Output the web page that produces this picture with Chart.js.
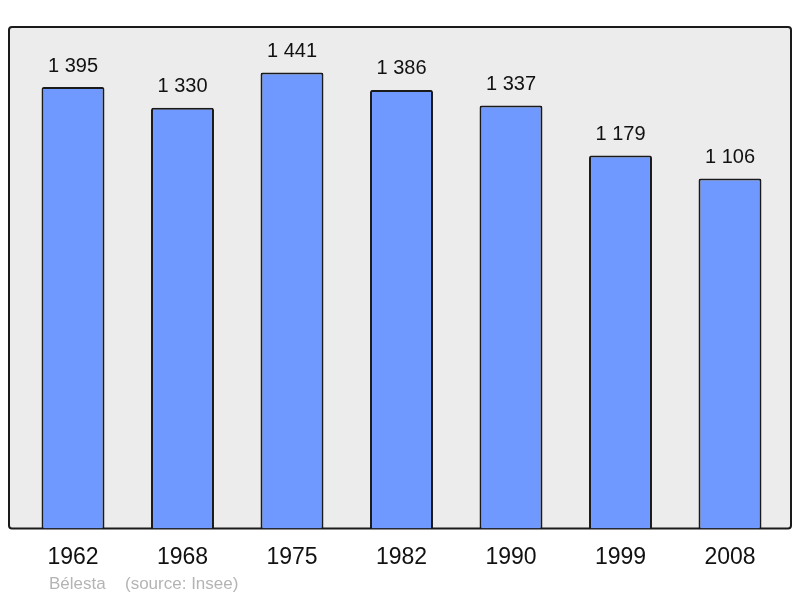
<!DOCTYPE html>
<html>
<head>
<meta charset="utf-8">
<script src="https://cdn.jsdelivr.net/npm/chart.js@4"></script>
<style>
  html, body { margin: 0; padding: 0; background: #fff; }
  #wrap { width: 800px; height: 598px; }
</style>
</head>
<body>
<div id="wrap"><canvas id="pop-chart"></canvas></div>
<script>
// Population figures
const years = ['1962', '1968', '1975', '1982', '1990', '1999', '2008'];
const population = [1395, 1330, 1441, 1386, 1337, 1179, 1106];
const townName = 'Bélesta';
const sourceText = '(source: Insee)';

const fmt = v => String(v).replace(/\B(?=(\d{3})+(?!\d))/g, ' ');

// grey rounded frame behind the bars
const framePlugin = {
    id: 'frame',
    beforeDraw(chart) {
        const { ctx, chartArea: a } = chart;
        const x0 = a.left - 9.25, x1 = a.right + 6.25;
        const y0 = a.top, y1 = a.bottom;
        ctx.save();
        ctx.beginPath();
        ctx.roundRect(x0, y0, x1 - x0, y1 - y0, 3);
        ctx.fillStyle = '#ececec';
        ctx.fill();
        ctx.lineWidth = 2;
        ctx.strokeStyle = '#1a1a1a';
        ctx.stroke();
        ctx.restore();
    }
};

// values above bars + footer text
const labelPlugin = {
    id: 'labels',
    afterDatasetsDraw(chart) {
        const { ctx } = chart;
        const meta = chart.getDatasetMeta(0);
        ctx.save();
        ctx.font = '20px "Liberation Sans", Arial, sans-serif';
        ctx.fillStyle = '#111';
        ctx.textAlign = 'center';
        ctx.textBaseline = 'middle';
        meta.data.forEach((bar, i) => {
            ctx.fillText(fmt(population[i]), bar.x, bar.y - 21);
        });
        ctx.font = '17px "Liberation Sans", Arial, sans-serif';
        ctx.fillStyle = '#b4b4b4';
        ctx.textAlign = 'left';
        ctx.fillText(townName, 49, 584);
        ctx.fillText(sourceText, 125, 584);
        ctx.restore();
    }
};

const ctx = document.getElementById('pop-chart').getContext('2d');
new Chart(ctx, {
    type: 'bar',
    data: {
        labels: years,
        datasets: [{
            data: population,
            backgroundColor: '#7099ff',
            borderColor: '#1a1a1a',
            borderWidth: 2,
            borderRadius: 2,
            borderSkipped: 'bottom',
            categoryPercentage: 1,
            barPercentage: 0.575
        }]
    },
    options: {
        responsive: true,
        maintainAspectRatio: false,
        animation: false,
        layout: { padding: { top: 27, left: 18.25, right: 15.25, bottom: 20 } },
        plugins: {
            legend: { display: false },
            tooltip: { enabled: false }
        },
        scales: {
            x: {
                grid: { display: false },
                border: { display: false },
                ticks: {
                    color: '#111',
                    padding: 7,
                    font: { family: '"Liberation Sans", Arial, sans-serif', size: 23 }
                }
            },
            y: {
                display: false,
                min: 0,
                max: 1585
            }
        }
    },
    plugins: [framePlugin, labelPlugin]
});
</script>
</body>
</html>
